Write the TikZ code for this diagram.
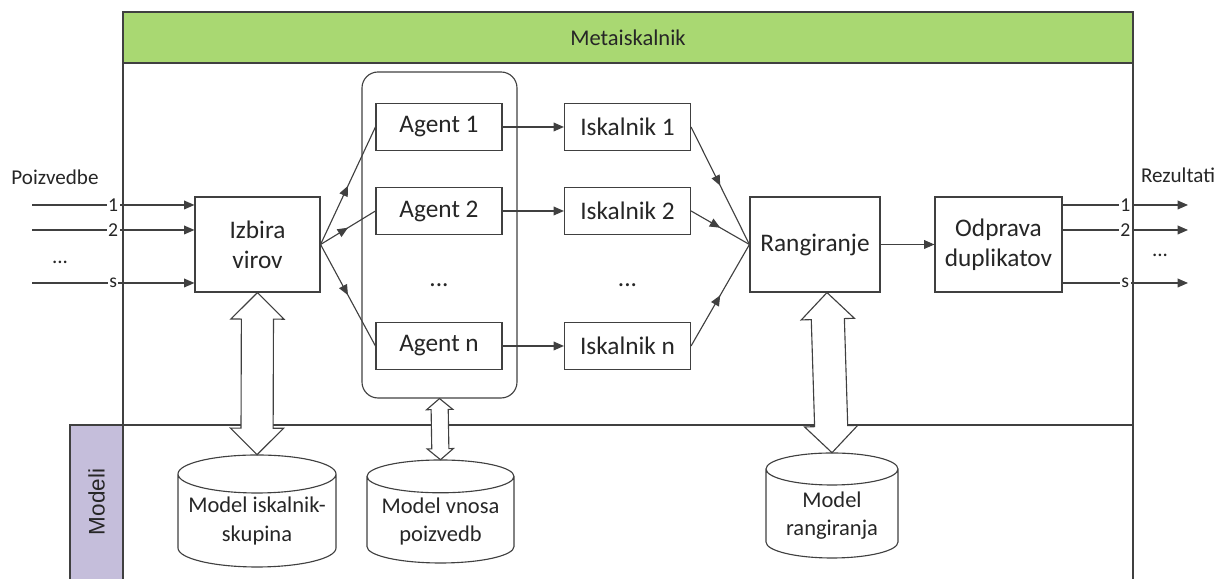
\documentclass[tikz,border=0pt]{standalone}
\usepackage{fontspec}
\setmainfont{Carlito}
\setsansfont{Liberation Sans}
\usepackage{xcolor}
\usetikzlibrary{shapes,arrows,positioning,calc,decorations.markings,arrows.meta}

\definecolor{linegray}{RGB}{64,64,64}
\definecolor{textgray}{RGB}{38,38,38}
\definecolor{headgreen}{RGB}{169,216,114}
\definecolor{modelpurple}{RGB}{197,190,219}

% model store: name, x, y, width, height, cap radius, text
\newcommand{\modeldb}[7]{%
    \draw[line, fill=white] ({#2-#4/2},{#3+#5/2-#6}) -- ({#2-#4/2},{#3-#5/2+#6})
        arc[start angle=180, end angle=360, x radius=#4/2, y radius=#6]
        -- ({#2+#4/2},{#3+#5/2-#6})
        arc[start angle=0, end angle=180, x radius=#4/2, y radius=#6]
        arc[start angle=180, end angle=360, x radius=#4/2, y radius=#6];
    \node[minimum width=#4cm, minimum height=#5cm, inner sep=0pt] (#1) at (#2,#3) {};
    \node[dbtext] (#1text) at ({#2},{#3-0.25}) {#7};
}

\begin{document}
\begin{tikzpicture}[
    line/.style={draw=linegray, line width=0.8pt},
    box/.style={line, fill=white, text=textgray, minimum width=3.15cm, minimum height=1.175cm, font=\fontsize{18}{21.5}\selectfont},
    bigbox/.style={box, minimum height=2.375cm, align=center},
    arr/.style={line, -{Triangle[length=2.6mm,width=2.2mm]}},
    midarr/.style={line, postaction={decorate}, decoration={markings, mark=at position 0.5 with {\arrow[linegray]{Triangle[length=2.6mm,width=2.2mm]}}}},
    lab/.style={fill=white, inner sep=1pt, text=textgray, font=\fontsize{14}{16}\selectfont},
    side/.style={text=textgray, font=\fontsize{15}{18}\selectfont},
    dbtext/.style={align=center, text=textgray, font=\fontsize{16}{20}\selectfont},
    dbl/.style={line, double arrow, fill=white, inner xsep=0pt, double arrow tip angle=90}
]
    \useasboundingbox (0,0) rectangle (30.7,14.475);

    % Frame
    \node[line, fill=headgreen, minimum width=25.25cm, minimum height=1.275cm, text=textgray, font=\fontsize{16}{19}\selectfont] (meta) at (15.7,13.5375) {Metaiskalnik};
    \draw[line] (3.075,12.9) -- (3.075,-0.1);
    \draw[line] (28.325,12.9) -- (28.325,-0.1);
    \draw[line] (1.75,3.85) -- (28.325,3.85);
    \draw[line, fill=modelpurple] (1.75,-0.1) rectangle (3.075,3.85);
    \node[rotate=90, text=textgray, font=\sffamily\fontsize{16}{19}\selectfont] (modeli) at (2.4125,1.925) {Modeli};

    % Agents
    \node[line, rounded corners=0.4cm, minimum width=3.875cm, minimum height=8.15cm] (agents) at (10.9875,8.6) {};
    \foreach \i/\y in {1/11.3, 2/9.2, n/5.825} {
        \node[box] (agent\i) at (10.975,\y) {Agent \i};
        \node[box] (isk\i) at (15.6875,\y) {Iskalnik \i};
        \draw[arr] (agent\i) -- (isk\i);
    }
    \node[box, draw=none, fill=none] (adots) at (10.975,7.35) {...};
    \node[box, draw=none, fill=none] (idots) at (15.6875,7.35) {...};

    \node[bigbox, minimum width=3.125cm] (izbira) at (6.4375,8.3625) {Izbira\\virov};
    \node[bigbox, minimum width=3.25cm] (rang) at (20.375,8.3625) {Rangiranje};
    \node[bigbox, minimum width=3.175cm] (odprava) at (24.9625,8.3625) {Odprava\\duplikatov};

    \foreach \i in {1,2,n} {
        \draw[midarr] (izbira.east) -- (agent\i.west);
        \draw[midarr] (isk\i.east) -- (rang.west);
    }
    \draw[arr] (rang) -- (odprava);

    % Queries in, results out
    \foreach \l/\y in {1/9.35, 2/8.725, s/7.4} {
        \coordinate (in\l) at (0.8,\y);
        \coordinate (out\l) at (29.7,\y);
        \draw[arr] (in\l) -- node[lab] {\l} (in\l -| izbira.west);
        \draw[arr] (out\l -| odprava.east) -- node[lab] {\l} (out\l);
    }
    \node[side] (poiz) at (1.375,10.05) {Poizvedbe};
    \node[side] (rez) at (29.45,10.1) {Rezultati};
    \node[side] (indots) at (1.5,7.925) {...};
    \node[side] (outdots) at (29.0,8.1) {...};

    % Models
    \modeldb{m1}{6.425}{1.7}{3.95}{2.8}{0.475}{Model iskalnik-\\skupina}
    \modeldb{m2}{11.0125}{1.6875}{3.675}{2.575}{0.41}{Model vnosa\\poizvedb}
    \modeldb{m3}{20.8}{1.8375}{3.3}{2.625}{0.4}{Model\\rangiranja}

    % Double arrows to models
    \path let \p1=($(izbira.south)-(m1.north)$), \n1={veclen(\x1,\y1)} in
        (izbira.south) -- node[dbl, sloped, minimum height=\n1, inner ysep=0.3875cm, double arrow head extend=0.2625cm] {} (m1.north);
    \path let \p1=($(agents.south)-(m2.north)$), \n1={veclen(\x1,\y1)} in
        (agents.south) -- node[dbl, sloped, minimum height=\n1, inner ysep=0.2cm, double arrow head extend=0.1125cm, double arrow tip angle=100] {} (m2.north);
    \coordinate (rangtip) at ($(rang.south)+(0.3,0)$);
    \path let \p1=($(rangtip)-(m3.north)$), \n1={veclen(\x1,\y1)} in
        (rangtip) -- node[dbl, sloped, minimum height=\n1, inner ysep=0.4cm, double arrow head extend=0.25cm] {} (m3.north);
\end{tikzpicture}
\end{document}
